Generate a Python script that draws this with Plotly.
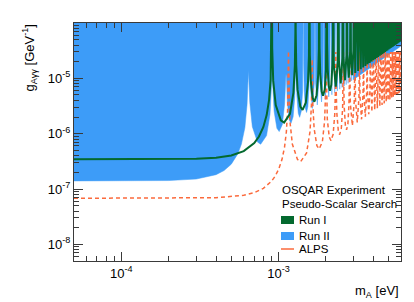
import math
import plotly.graph_objects as go

# ---------------- data (mass in meV, coupling in GeV^-1) ----------------
run1_m_meV = [
    0.05, 0.3, 0.4, 0.5, 0.6, 0.7, 0.75, 0.8, 0.84, 0.87, 0.89, 0.9, 0.906,
    0.9105, 0.9239, 0.9588, 1.0330, 1.0836, 1.1813, 1.2422, 1.2684, 1.2781, 1.2813,
    1.2845, 1.2940, 1.3191, 1.3740, 1.4207, 1.4887, 1.5375, 1.5588, 1.5692,
    1.5797, 1.6003, 1.6458, 1.6879, 1.7427, 1.7846, 1.8029, 1.812,
    1.8210, 1.8390, 1.8787, 1.9171, 1.9642, 2.0014, 2.0178, 2.0259,
    2.0340, 2.0500, 2.0858, 2.1212, 2.1630, 2.1969, 2.2118, 2.2192,
    2.2413, 2.3098, 2.3764, 2.3970,
    2.4175, 2.4812, 2.5433, 2.5626,
    2.5817, 2.6414, 2.6998, 2.718,
    2.7361, 2.7925, 2.8478, 2.8650,
    2.8822, 2.9358, 2.9884, 3.0049,
    3.0724, 3.1385, 3.2032, 3.2667, 3.3288, 3.3900, 3.4500, 3.5089, 3.5669, 3.624,
    3.6802, 3.7355, 3.7901, 3.8438, 3.8969, 3.9492, 4.0008, 4.0517, 4.1021, 4.1518,
    4.2009, 4.2495, 4.2975, 4.3450, 4.3920, 4.4385, 4.4844, 4.530, 4.5751, 4.6197,
    4.6639, 4.7077, 4.7511, 4.7941, 4.8367, 4.8790, 4.9208, 4.9624, 5.0036, 5.0444,
    5.0849, 5.1251, 5.1650, 5.2046, 5.2438, 5.2829, 5.3216, 5.3600, 5.3981, 5.436,
    5.4736, 5.5110, 5.5481, 5.5849, 5.6215, 5.6580, 5.6941, 5.7301, 5.7658, 5.8012,
    5.8365, 5.8715, 5.9064, 5.9410, 5.9755, 6.0097,
]
run1_g = [
    3.45e-7, 3.52e-7, 3.67e-7, 4.04e-7, 4.84e-7, 6.78e-7, 8.89e-7, 1.323e-6, 2.188e-6, 4.13e-6, 9.54e-6, 2.58e-5, 1e-3,
    3.485e-5, 8.995e-6, 3.298e-6, 1.742e-6, 1.588e-6, 2.277e-6, 5.536e-6, 1.695e-5, 6.866e-5, 1e-3,
    6.93e-5, 1.764e-5, 6.242e-6, 3.081e-6, 2.688e-6, 3.617e-6, 8.480e-6, 2.560e-5, 1e-3,
    2.629e-5, 9.187e-6, 4.421e-6, 3.778e-6, 4.957e-6, 1.143e-5, 3.425e-5, 1e-3,
    3.494e-5, 1.213e-5, 5.761e-6, 4.865e-6, 6.296e-6, 1.437e-5, 4.290e-5, 1e-3,
    4.359e-5, 1.508e-5, 7.100e-6, 5.951e-6, 7.636e-6, 1.731e-5, 5.155e-5, 1e-3,
    1.802e-5, 7.045e-6, 2.026e-5, 1e-3,
    2.097e-5, 8.129e-6, 2.320e-5, 1e-3,
    2.391e-5, 9.213e-6, 2.615e-5, 1e-3,
    2.686e-5, 1.030e-5, 2.909e-5, 1e-3,
    2.980e-5, 1.138e-5, 3.204e-5, 1e-3,
    1.2464e-5, 1e-3, 1.3548e-5, 1e-3, 1.4631e-5, 1e-3, 1.5715e-5, 1e-3, 1.6799e-5, 1e-3,
    1.7883e-5, 1e-3, 1.8967e-5, 1e-3, 2.0050e-5, 1e-3, 2.1134e-5, 1e-3, 2.2218e-5, 1e-3,
    2.3302e-5, 1e-3, 2.4386e-5, 1e-3, 2.5469e-5, 1e-3, 2.6553e-5, 1e-3, 2.7637e-5, 1e-3,
    2.8721e-5, 1e-3, 2.9805e-5, 1e-3, 3.0888e-5, 1e-3, 3.1972e-5, 1e-3, 3.3056e-5, 1e-3,
    3.4140e-5, 1e-3, 3.5224e-5, 1e-3, 3.6307e-5, 1e-3, 3.7391e-5, 1e-3, 3.8475e-5, 1e-3,
    3.9559e-5, 1e-3, 4.0643e-5, 1e-3, 4.1726e-5, 1e-3, 4.2810e-5, 1e-3, 4.3894e-5, 1e-3,
    4.4978e-5, 1e-3, 4.6062e-5, 1e-3, 4.7145e-5, 1e-3,
]

run2_m_meV = [
    0.05, 0.2, 0.3, 0.4, 0.45, 0.5, 0.55, 0.58, 0.61, 0.63, 0.637, 0.643,
    0.6557, 0.6805, 0.7331, 0.7690, 0.8383, 0.8816, 0.9002, 0.9071, 0.9093,
    0.9116, 0.9184, 0.9362, 0.9752, 1.0083, 1.0566, 1.0912, 1.1063, 1.1137,
    1.1211, 1.1358, 1.1681, 1.1979, 1.2368, 1.2666, 1.2795, 1.286,
    1.2924, 1.3052, 1.3334, 1.3606, 1.3940, 1.4204, 1.4320, 1.4378,
    1.4435, 1.4549, 1.4803, 1.5055, 1.5351, 1.5592, 1.5698, 1.5750,
    1.5907, 1.6393, 1.6866, 1.7012,
    1.7157, 1.7609, 1.8050, 1.8187,
    1.8323, 1.8747, 1.9161, 1.929,
    1.9418, 1.9819, 2.0211, 2.0333,
    2.0455, 2.0836, 2.1209, 2.1326,
    2.1805, 2.2274, 2.2733, 2.3184, 2.3625, 2.4059, 2.4485, 2.4903, 2.5315, 2.572,
    2.6119, 2.6512, 2.6899, 2.7280, 2.7657, 2.8028, 2.8394, 2.8756, 2.9113, 2.9466,
    2.9815, 6.0,
]
run2_g = [
    1.4e-7, 1.422e-7, 1.515e-7, 1.815e-7, 2.155e-7, 2.810e-7, 4.312e-7, 6.477e-7, 1.281e-6, 3.366e-6, 7.40e-6, 1.4e-5,
    3.650e-6, 1.338e-6, 7.067e-7, 6.444e-7, 9.241e-7, 2.247e-6, 6.880e-6, 2.786e-5, 1e-3,
    2.814e-5, 7.160e-6, 2.533e-6, 1.250e-6, 1.091e-6, 1.467e-6, 3.441e-6, 1.039e-5, 1.2e-5,
    1.067e-5, 3.728e-6, 1.793e-6, 1.533e-6, 2.012e-6, 4.637e-6, 1.390e-5, 1e-3,
    1.418e-5, 4.922e-6, 2.338e-6, 1.974e-6, 2.555e-6, 5.831e-6, 1.740e-5, 1e-3,
    1.770e-5, 6.118e-6, 2.881e-6, 2.415e-6, 3.098e-6, 7.027e-6, 2.092e-5, 1e-3,
    7.312e-6, 2.859e-6, 8.221e-6, 1e-3,
    8.508e-6, 3.298e-6, 9.416e-6, 1e-3,
    9.702e-6, 3.738e-6, 1.061e-5, 1e-3,
    1.090e-5, 4.179e-6, 1.181e-5, 1e-3,
    1.209e-5, 4.619e-6, 1.300e-5, 1e-3,
    5.058e-6, 1e-3, 5.498e-6, 1e-3, 5.937e-6, 1e-3, 6.377e-6, 1e-3, 6.817e-6, 1e-3,
    7.257e-6, 1e-3, 7.697e-6, 1e-3, 8.136e-6, 1e-3, 8.576e-6, 1e-3, 9.016e-6, 1e-3,
    9.456e-6, 3.83e-5,
]

alps_m_meV = [
    0.05, 0.4, 0.6, 0.7, 0.8, 0.9, 0.95, 1.0, 1.05, 1.09, 1.12, 1.14, 1.155,
    1.1779, 1.2223, 1.3169, 1.3814, 1.5059, 1.5836, 1.617, 1.6334,
    1.6497, 1.6817, 1.7516, 1.8112, 1.8979, 1.9601, 1.9871, 2.0005,
    2.0138, 2.0401, 2.0982, 2.1518, 2.2217, 2.2751, 2.2984, 2.31,
    2.3215, 2.3444, 2.3951, 2.4440, 2.5040, 2.5515, 2.5723, 2.5827,
    2.5930, 2.6135, 2.6590, 2.7042, 2.7575, 2.8007, 2.8197, 2.8292,
    2.8573, 2.9447, 3.0295, 3.0558,
    3.0819, 3.1631, 3.2422, 3.2668,
    3.2912, 3.3674, 3.4418, 3.465,
    3.4880, 3.5600, 3.6305, 3.6524,
    3.6743, 3.7426, 3.8097, 3.8307,
    3.9168, 4.0010, 4.0835, 4.1645, 4.2437, 4.3217, 4.3981, 4.4733, 4.5472, 4.620,
    4.6916, 4.7622, 4.8317, 4.9002, 4.9679, 5.0345, 5.1004, 5.1653, 5.2295, 5.2929,
    5.3555, 5.4174, 5.4786, 5.5391, 5.5991, 5.6583, 5.7169, 5.775, 5.8325, 5.8893,
    5.9457, 6.0016,
]
alps_g = [
    6.8e-8, 6.964e-8, 7.689e-8, 8.583e-8, 1.027e-7, 1.375e-7, 1.700e-7, 2.264e-7, 3.404e-7, 5.635e-7, 1.078e-6, 2.570e-6, 3.1e-5,
    1.773e-6, 6.500e-7, 3.433e-7, 3.130e-7, 4.489e-7, 1.091e-6, 3.342e-6, 2.2e-5,
    3.478e-6, 1.230e-6, 6.073e-7, 5.297e-7, 7.126e-7, 1.671e-6, 5.046e-6, 3e-5,
    5.182e-6, 1.811e-6, 8.711e-7, 7.446e-7, 9.772e-7, 2.252e-6, 6.751e-6, 3e-5,
    6.888e-6, 2.391e-6, 1.136e-6, 9.588e-7, 1.241e-6, 2.832e-6, 8.452e-6, 3e-5,
    8.595e-6, 2.972e-6, 1.399e-6, 1.173e-6, 1.505e-6, 3.413e-6, 1.016e-5, 3e-5,
    3.552e-6, 1.389e-6, 3.993e-6, 3e-5,
    4.132e-6, 1.602e-6, 4.574e-6, 3e-5,
    4.712e-6, 1.816e-6, 5.154e-6, 3e-5,
    5.293e-6, 2.030e-6, 5.734e-6, 3e-5,
    5.873e-6, 2.243e-6, 6.314e-6, 3e-5,
    2.457e-6, 3e-5, 2.670e-6, 3e-5, 2.884e-6, 3e-5, 3.098e-6, 3e-5, 3.311e-6, 3e-5,
    3.525e-6, 3e-5, 3.739e-6, 3e-5, 3.952e-6, 3e-5, 4.166e-6, 3e-5, 4.379e-6, 3e-5,
    4.593e-6, 3e-5, 4.807e-6, 3e-5, 5.020e-6, 3e-5, 5.234e-6, 3e-5, 5.448e-6, 3e-5,
    5.661e-6, 3e-5,
]

x_tick_vals = [1e-4, 1e-3]
x_tick_text = ["10<sup>-4</sup>", "10<sup>-3</sup>"]
y_tick_vals = [1e-8, 1e-7, 1e-6, 1e-5]
y_tick_text = ["10<sup>-8</sup>", "10<sup>-7</sup>", "10<sup>-6</sup>", "10<sup>-5</sup>"]
legend_header = ["OSQAR Experiment", "Pseudo-Scalar Search"]
legend_labels = ["Run I", "Run II", "ALPS"]

X_MIN, X_MAX = 5e-5, 6e-3
Y_MIN, Y_MAX = 5e-9, 1e-4
FILL_TOP = 1e-3

GREEN = "#03692f"
BLUE = "#3d9cf8"
ORANGE = "#fb6a3c"
AXC = "#3a3a3a"
FONT = "Liberation Sans, Arial, Helvetica, sans-serif"

run1_m = [v * 1e-3 for v in run1_m_meV]
run2_m = [v * 1e-3 for v in run2_m_meV]
alps_m = [v * 1e-3 for v in alps_m_meV]

fig = go.Figure()
fig.add_trace(go.Scatter(
    x=run2_m + [X_MAX, X_MIN], y=run2_g + [FILL_TOP, FILL_TOP],
    mode="lines", fill="toself", fillcolor=BLUE,
    line=dict(color=BLUE, width=0.5), hoverinfo="skip", name=legend_labels[1]))
fig.add_trace(go.Scatter(
    x=alps_m, y=alps_g, mode="lines",
    line=dict(color=ORANGE, width=1.5, dash="4px,3px"), name=legend_labels[2]))
fig.add_trace(go.Scatter(
    x=run1_m, y=run1_g, mode="lines",
    line=dict(color=GREEN, width=2), name=legend_labels[0]))


def minor_vals(lo, hi, exps):
    out = []
    for e in exps:
        for k in range(2, 10):
            v = k * 10.0 ** e
            if lo <= v <= hi:
                out.append(v)
    return out


common_axis = dict(
    type="log", showgrid=False, zeroline=False, showline=True,
    linecolor=AXC, linewidth=1, mirror="allticks",
    ticks="inside", ticklen=9, tickwidth=1, tickcolor=AXC,
    tickmode="array",
    tickfont=dict(family=FONT, size=13, color="#000"),
)
fig.update_xaxes(
    **common_axis,
    range=[math.log10(X_MIN), math.log10(X_MAX)],
    tickvals=x_tick_vals, ticktext=x_tick_text,
    minor=dict(tickmode="array", tickvals=minor_vals(X_MIN, X_MAX, [-5, -4, -3]),
               ticks="inside", ticklen=5, tickwidth=1, tickcolor=AXC, showgrid=False),
)
fig.update_yaxes(
    **common_axis,
    range=[math.log10(Y_MIN), math.log10(Y_MAX)],
    tickvals=y_tick_vals, ticktext=y_tick_text,
    minor=dict(tickmode="array", tickvals=minor_vals(Y_MIN, Y_MAX, [-9, -8, -7, -6, -5]),
               ticks="inside", ticklen=5, tickwidth=1, tickcolor=AXC, showgrid=False),
)

W, H = 414, 302
L, R, T, B = 66, 21, 15, 49
pw, ph = W - L - R, H - T - B


def px(xp):
    return (xp - L) / pw


def py(yp):
    return (H - B - yp) / ph


ann = []
ann.append(dict(text="g<sub>Aγγ</sub> [GeV<sup>-1</sup>]", x=px(21), y=1.0, xref="paper", yref="paper",
                xanchor="center", yanchor="top", textangle=-90, showarrow=False,
                font=dict(family=FONT, size=13, color="#000")))
ann.append(dict(text="m<sub>A</sub> [eV]", x=1.0, y=py(283), xref="paper", yref="paper",
                xanchor="right", yanchor="middle", showarrow=False,
                font=dict(family=FONT, size=13, color="#000")))
for txt, yy in zip(legend_header, [182, 196]):
    ann.append(dict(text=txt, x=px(272), y=py(yy), xref="paper", yref="paper",
                    xanchor="left", yanchor="middle", showarrow=False,
                    font=dict(family=FONT, size=11.5, color="#000")))
for txt, yy in zip(legend_labels, [212, 228, 241]):
    ann.append(dict(text=txt, x=px(289), y=py(yy), xref="paper", yref="paper",
                    xanchor="left", yanchor="middle", showarrow=False,
                    font=dict(family=FONT, size=11.5, color="#000")))

shapes = [
    dict(type="rect", xref="paper", yref="paper", x0=px(273), x1=px(286), y0=py(216), y1=py(208),
         fillcolor=GREEN, line=dict(width=0)),
    dict(type="rect", xref="paper", yref="paper", x0=px(273), x1=px(286), y0=py(232), y1=py(224),
         fillcolor=BLUE, line=dict(width=0)),
    dict(type="line", xref="paper", yref="paper", x0=px(273), x1=px(286), y0=py(241), y1=py(241),
         line=dict(color=ORANGE, width=1.5)),
]

fig.update_layout(
    width=W, height=H, margin=dict(l=L, r=R, t=T, b=B, pad=0),
    paper_bgcolor="white", plot_bgcolor="white", showlegend=False,
    annotations=ann, shapes=shapes,
    font=dict(family=FONT, size=13, color="#000"),
)
fig.write_html("out.html")
